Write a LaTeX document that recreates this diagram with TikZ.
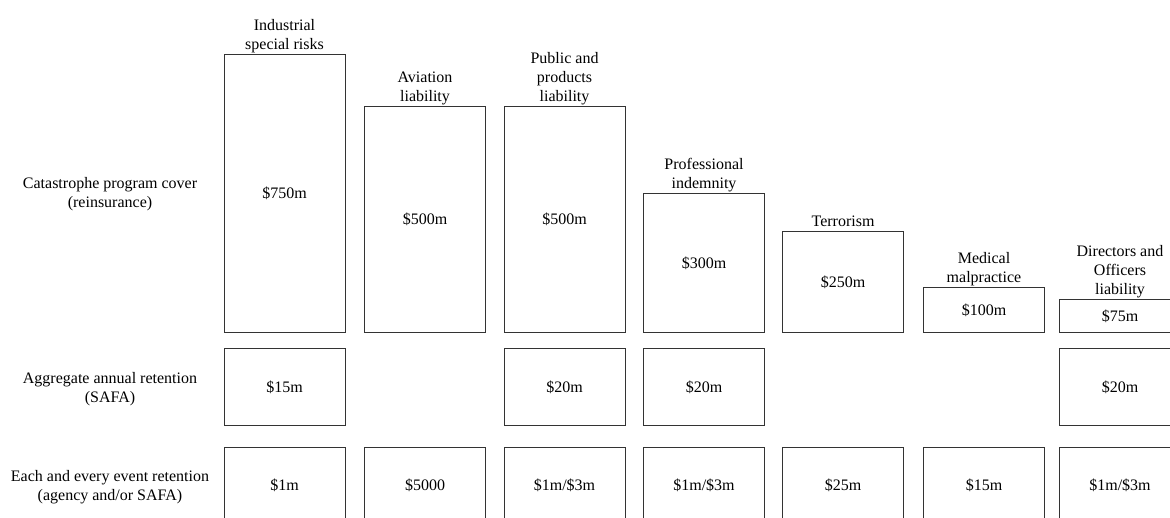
\documentclass[tikz,border=0pt]{standalone}
\usepackage{fontspec}
\setmainfont{Liberation Serif}
\usetikzlibrary{positioning}

\tikzset{
	box/.style={draw=black!80, line width=1pt, minimum width=121pt, inner sep=0pt},
	head/.style={align=center, inner sep=0pt, text depth=0pt},
	rowname/.style={align=center, inner sep=0pt}
}

\begin{document}
\begin{tikzpicture}[x=1pt, y=-1pt, font=\fontsize{16}{19}\selectfont]
		\useasboundingbox (0,0) rectangle (1170,518);
		%
		% row labels
		\node[rowname] (cat) at (110,194) {Catastrophe program cover\\(reinsurance)};
		\node[rowname] (agg) at (110,389) {Aggregate annual retention\\(SAFA)};
		\node[rowname] (eev) at (110,487) {Each and every event retention\\(agency and/or SAFA)};
		%
		% catastrophe cover, bottoms aligned
		\node[box, anchor=south, minimum height=278pt] (isr) at (284.5,333) {\$750m};
		\node[box, anchor=south, minimum height=226pt] (avl) at (425,333) {\$500m};
		\node[box, anchor=south, minimum height=226pt] (ppl) at (564.5,333) {\$500m};
		\node[box, anchor=south, minimum height=139pt] (pin) at (704,333) {\$300m};
		\node[box, anchor=south, minimum height=101pt] (ter) at (843,333) {\$250m};
		\node[box, anchor=south, minimum height=45pt] (mmp) at (984,333) {\$100m};
		\node[box, anchor=south, minimum height=33pt] (dol) at (1120,333) {\$75m};
		%
		\node[head, above=4.5pt of isr] (isr') {Industrial\\special risks};
		\node[head, above=4.5pt of avl] (avl') {Aviation\\liability};
		\node[head, above=4.5pt of ppl] (ppl') {Public and\\products\\liability};
		\node[head, above=4.5pt of pin] (pin') {Professional\\indemnity};
		\node[head, above=4.5pt of ter] (ter') {Terrorism};
		\node[head, above=4.5pt of mmp] (mmp') {Medical\\malpractice};
		\node[head, above=4.5pt of dol] (dol') {Directors and\\Officers\\liability};
		%
		% aggregate annual retention
		\node[box, minimum height=76pt] (isr-a) at (284.5,387) {\$15m};
		\node[box, minimum height=76pt] (ppl-a) at (564.5,387) {\$20m};
		\node[box, minimum height=76pt] (pin-a) at (704,387) {\$20m};
		\node[box, minimum height=76pt] (dol-a) at (1120,387) {\$20m};
		%
		% each and every event retention
		\node[box, minimum height=76pt] (isr-e) at (284.5,485) {\$1m};
		\node[box, minimum height=76pt] (avl-e) at (425,485) {\$5000};
		\node[box, minimum height=76pt] (ppl-e) at (564.5,485) {\$1m/\$3m};
		\node[box, minimum height=76pt] (pin-e) at (704,485) {\$1m/\$3m};
		\node[box, minimum height=76pt] (ter-e) at (843,485) {\$25m};
		\node[box, minimum height=76pt] (mmp-e) at (984,485) {\$15m};
		\node[box, minimum height=76pt] (dol-e) at (1120,485) {\$1m/\$3m};
\end{tikzpicture}
\end{document}
